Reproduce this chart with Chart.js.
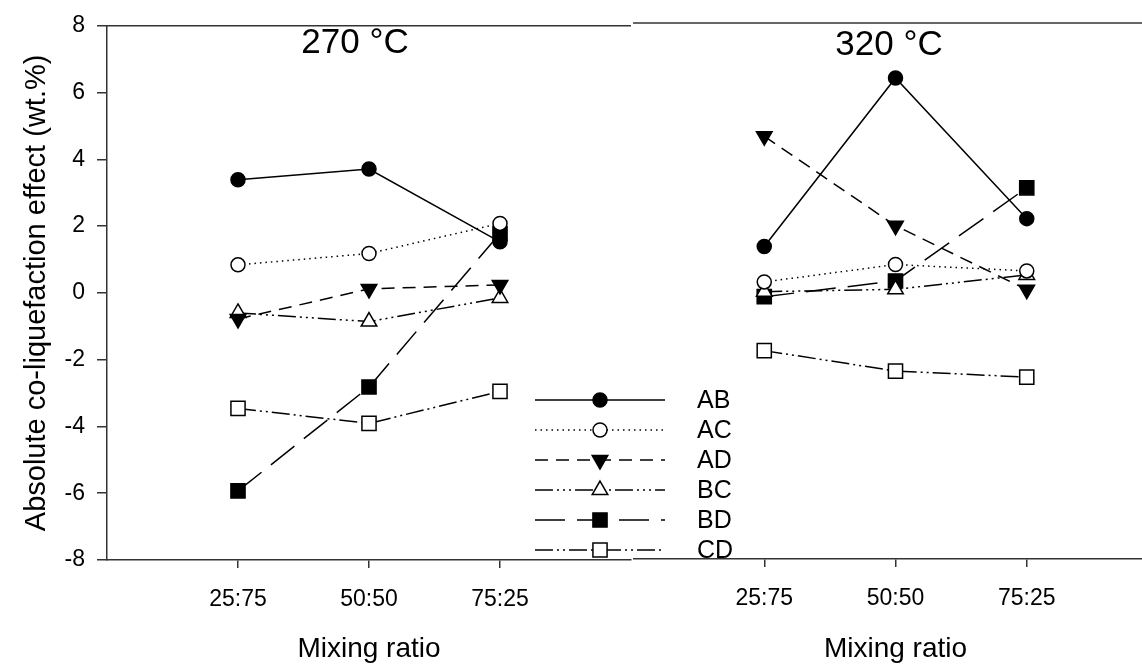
<!DOCTYPE html>
<html>
<head>
<meta charset="utf-8">
<script src="https://cdn.jsdelivr.net/npm/chart.js@4"></script>
<style>
  html, body { margin: 0; padding: 0; background: #fff; overflow: hidden; width: 1142px; height: 666px; }
  .panel { position: absolute; top: 0; height: 666px; }
  #p270 { left: 0; width: 760px; }
  #p320 { left: 633px; width: 525px; }
</style>
</head>
<body>
<div class="panel" id="p270"><canvas id="c270"></canvas></div>
<div class="panel" id="p320"><canvas id="c320"></canvas></div>
<script>
// mixing ratios on the x axis
const ratios = ['25:75', '50:50', '75:25'];
const pairs = ['AB', 'AC', 'AD', 'BC', 'BD', 'CD'];

// absolute co-liquefaction effect, wt.%, at 270 °C
const ab270 = [3.39, 3.71, 1.53];
const ac270 = [0.84, 1.18, 2.08];
const ad270 = [-0.78, 0.12, 0.24];
const bc270 = [-0.60, -0.86, -0.15];
const bd270 = [-5.93, -2.82, 1.78];
const cd270 = [-3.46, -3.91, -2.95];

// same pairs at 320 °C
const ab320 = [1.33, 6.36, 2.16];
const ac320 = [0.27, 0.79, 0.60];
const ad320 = [4.62, 1.95, 0.04];
const bc320 = [-0.02, 0.05, 0.48];
const bd320 = [-0.17, 0.30, 3.08];
const cd320 = [-1.78, -2.39, -2.57];

const FONT = "'Liberation Sans', Arial, sans-serif";
const AXIS = '#333';

// line + marker look per pair
const styles = {
  AB: { dash: [], shape: 'circle', fill: '#000', rot: 0, r: 7 },
  AC: { dash: [1.5, 4], shape: 'circle', fill: '#fff', rot: 0, r: 7 },
  AD: { dash: [13, 8], shape: 'triangle', fill: '#000', rot: 180, r: 9 },
  BC: { dash: [18, 4, 2, 4, 2, 4, 2, 4], shape: 'triangle', fill: '#fff', rot: 0, r: 9 },
  BD: { dash: [30, 12], shape: 'rect', fill: '#000', rot: 0, r: 10 },
  CD: { dash: [18, 4, 2, 4, 2, 4], shape: 'rect', fill: '#fff', rot: 0, r: 10 }
};

function makeDatasets(series) {
  return pairs.map((p, k) => {
    const s = styles[p];
    return {
      label: p,
      data: series[k].map((v, i) => ({ x: i + 1, y: v })),
      borderColor: '#000',
      borderWidth: 1.5,
      borderDash: s.dash,
      pointStyle: s.shape,
      pointRotation: s.rot,
      pointRadius: s.r,
      pointHoverRadius: s.r,
      pointBackgroundColor: s.fill,
      pointBorderColor: '#000',
      pointBorderWidth: 1.5,
      tension: 0
    };
  });
}

// top frame line of each panel
const topLine = {
  id: 'topLine',
  afterDraw(chart) {
    const { ctx, chartArea: a } = chart;
    ctx.save();
    ctx.strokeStyle = AXIS;
    ctx.lineWidth = 1.5;
    ctx.beginPath();
    ctx.moveTo(a.left, a.top);
    ctx.lineTo(a.right, a.top);
    ctx.stroke();
    ctx.restore();
  }
};

// temperature label inside the panel
const panelLabel = {
  id: 'panelLabel',
  afterDraw(chart, args, opts) {
    const { ctx, chartArea: a } = chart;
    ctx.save();
    ctx.font = '35px ' + FONT;
    ctx.fillStyle = '#000';
    ctx.textAlign = 'center';
    ctx.textBaseline = 'middle';
    ctx.fillText(opts.text, a.left + opts.dx, opts.y);
    ctx.restore();
  }
};

function drawMarker(ctx, s, x, y) {
  ctx.save();
  ctx.fillStyle = s.fill;
  ctx.strokeStyle = '#000';
  ctx.lineWidth = 1.5;
  ctx.setLineDash([]);
  ctx.beginPath();
  if (s.shape === 'circle') {
    ctx.arc(x, y, s.r, 0, Math.PI * 2);
  } else if (s.shape === 'rect') {
    const h = s.r * Math.SQRT1_2;
    ctx.rect(x - h, y - h, 2 * h, 2 * h);
  } else {
    let rad = s.rot * Math.PI / 180;
    ctx.moveTo(x + Math.sin(rad) * s.r, y - Math.cos(rad) * s.r);
    rad += 2 * Math.PI / 3;
    ctx.lineTo(x + Math.sin(rad) * s.r, y - Math.cos(rad) * s.r);
    rad += 2 * Math.PI / 3;
    ctx.lineTo(x + Math.sin(rad) * s.r, y - Math.cos(rad) * s.r);
    ctx.closePath();
  }
  ctx.fill();
  ctx.stroke();
  ctx.restore();
}

// legend block in the lower middle
const pairLegend = {
  id: 'pairLegend',
  afterDraw(chart, args, o) {
    const ctx = chart.ctx;
    pairs.forEach((p, i) => {
      const s = styles[p];
      const y = o.y0 + i * o.step;
      ctx.save();
      ctx.strokeStyle = '#000';
      ctx.lineWidth = 1.5;
      ctx.setLineDash(s.dash);
      ctx.beginPath();
      ctx.moveTo(o.x0, y);
      ctx.lineTo(o.x1, y);
      ctx.stroke();
      ctx.restore();
      drawMarker(ctx, s, o.mx, y);
      ctx.save();
      ctx.font = '25px ' + FONT;
      ctx.fillStyle = '#000';
      ctx.textBaseline = 'middle';
      ctx.fillText(p, o.tx, y + 1);
      ctx.restore();
    });
  }
};

function xScale(h) {
  return {
    type: 'linear', min: 0, max: 4,
    afterBuildTicks: s => { s.ticks = ratios.map((_, i) => ({ value: i + 1 })); },
    ticks: {
      callback: (v, i) => ratios[i],
      font: { family: FONT, size: 23 }, color: '#000', padding: 18,
      maxRotation: 0, autoSkip: false
    },
    grid: { drawOnChartArea: false, drawTicks: true, tickLength: 8, color: AXIS, lineWidth: 1.5 },
    border: { display: true, color: AXIS, width: 1.5 },
    title: { display: true, text: 'Mixing ratio', color: '#000', font: { family: FONT, size: 28 }, padding: { top: 0, bottom: 0 } },
    afterFit: s => { s.height = h; s.paddingLeft = 0; s.paddingRight = 0; }
  };
}

Chart.defaults.font.family = FONT;

new Chart(document.getElementById('c270'), {
  type: 'line',
  data: { datasets: makeDatasets([ab270, ac270, ad270, bc270, bd270, cd270]) },
  options: {
    responsive: true, maintainAspectRatio: false, animation: false, events: [],
    devicePixelRatio: 1,
    layout: { autoPadding: false, padding: { top: 23, right: 129, bottom: 0, left: 0 } },
    scales: {
      x: xScale(106),
      y: {
        min: -8, max: 8,
        ticks: { stepSize: 2, font: { family: FONT, size: 23 }, color: '#000', padding: 12 },
        grid: { drawOnChartArea: false, drawTicks: true, tickLength: 10, color: AXIS, lineWidth: 1.5 },
        border: { display: true, color: AXIS, width: 1.5 },
        title: { display: true, text: 'Absolute co-liquefaction effect (wt.%)', color: '#000', font: { family: FONT, size: 29 }, padding: { top: 20, bottom: 0 } },
        afterFit: s => { s.width = 107; }
      }
    },
    plugins: {
      legend: { display: false }, tooltip: { enabled: false },
      panelLabel: { text: '270 °C', dx: 248, y: 43 },
      pairLegend: { x0: 535, x1: 665, mx: 600, tx: 697, y0: 400, step: 30 }
    }
  },
  plugins: [topLine, panelLabel, pairLegend]
});

new Chart(document.getElementById('c320'), {
  type: 'line',
  data: { datasets: makeDatasets([ab320, ac320, ad320, bc320, bd320, cd320]) },
  options: {
    responsive: true, maintainAspectRatio: false, animation: false, events: [],
    devicePixelRatio: 1,
    layout: { autoPadding: false, padding: { top: 23, right: 0, bottom: 0, left: 0 } },
    scales: {
      x: xScale(107),
      y: { display: false, min: -8, max: 8 }
    },
    plugins: {
      legend: { display: false }, tooltip: { enabled: false },
      panelLabel: { text: '320 °C', dx: 256, y: 45 }
    }
  },
  plugins: [topLine, panelLabel]
});
</script>
</body>
</html>
